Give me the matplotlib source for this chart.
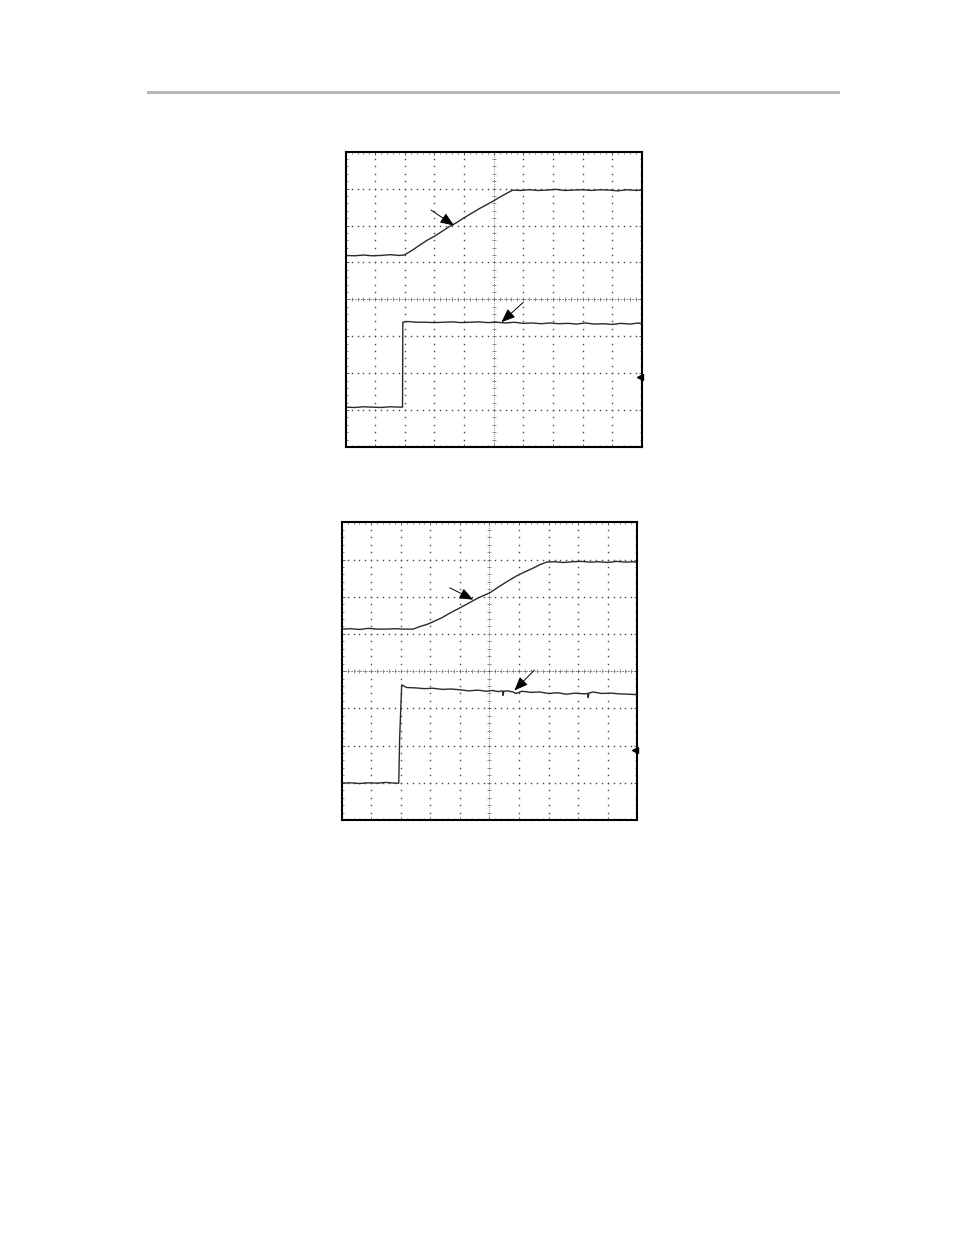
import numpy as np
import matplotlib.pyplot as plt
from matplotlib.lines import Line2D

# Scope screens: 10 x 8 divisions (in divisions)

# Screen 1 - ramp trace (top)
t1_ramp = [0, 0.3, 0.6, 0.9, 1.2, 1.5, 1.8, 1.97, 2.25, 2.5, 2.75, 3.0, 3.25, 3.5, 3.75,
           4.0, 4.25, 4.5, 4.75, 5.0, 5.25, 5.5, 5.65, 5.9, 6.2, 6.5, 6.8, 7.1, 7.4, 7.7,
           8.0, 8.3, 8.6, 8.9, 9.2, 9.5, 9.8, 10.0]
v1_ramp = [5.19, 5.18, 5.20, 5.18, 5.19, 5.21, 5.19, 5.20, 5.33, 5.47, 5.60, 5.71, 5.84,
           5.97, 6.08, 6.21, 6.33, 6.45, 6.56, 6.67, 6.79, 6.90, 6.96, 6.95, 6.97, 6.95,
           6.96, 6.98, 6.95, 6.96, 6.97, 6.95, 6.97, 6.96, 6.94, 6.97, 6.95, 6.96]

# Screen 1 - step trace (bottom)
t1_step = [0, 0.3, 0.6, 0.9, 1.2, 1.5, 1.8, 1.92, 1.93, 2.1, 2.4, 2.7, 3.0, 3.3, 3.6, 3.9,
           4.2, 4.5, 4.8, 5.1, 5.4, 5.7, 6.0, 6.3, 6.6, 6.9, 7.2, 7.5, 7.8, 8.1, 8.4, 8.7,
           9.0, 9.3, 9.6, 9.9, 10.0]
v1_step = [1.08, 1.07, 1.09, 1.08, 1.07, 1.09, 1.08, 1.08, 3.38, 3.40, 3.38, 3.38, 3.37,
           3.38, 3.39, 3.37, 3.38, 3.39, 3.37, 3.38, 3.36, 3.38, 3.35, 3.36, 3.34, 3.36,
           3.34, 3.35, 3.33, 3.36, 3.33, 3.34, 3.32, 3.35, 3.33, 3.36, 3.33]

# Screen 2 - ramp trace (top)
t2_ramp = [0, 0.3, 0.6, 0.9, 1.2, 1.5, 1.8, 2.1, 2.42, 2.65, 2.9, 3.1, 3.4, 3.66, 4.0, 4.3,
           4.6, 5.02, 5.3, 5.6, 5.92, 6.2, 6.48, 6.7, 6.93, 7.2, 7.5, 7.8, 8.1, 8.4, 8.7,
           9.0, 9.3, 9.6, 9.9, 9.97]
v2_ramp = [5.13, 5.14, 5.12, 5.15, 5.13, 5.13, 5.14, 5.13, 5.13, 5.20, 5.26, 5.33, 5.44,
           5.56, 5.70, 5.83, 5.96, 6.11, 6.26, 6.41, 6.56, 6.67, 6.77, 6.86, 6.93, 6.94,
           6.92, 6.94, 6.95, 6.93, 6.94, 6.92, 6.95, 6.93, 6.94, 6.92]

# Screen 2 - step trace (bottom)
t2_step = [0, 0.3, 0.6, 0.9, 1.2, 1.5, 1.8, 1.93, 1.96, 2.03, 2.2, 2.5, 2.8, 3.1, 3.4, 3.7,
           4.0, 4.3, 4.6, 4.9, 5.1, 5.3, 5.44, 5.46, 5.48, 5.6, 5.8, 5.9, 6.1, 6.4, 6.7,
           7.0, 7.3, 7.6, 7.9, 8.2, 8.32, 8.34, 8.36, 8.5, 8.8, 9.1, 9.4, 9.7, 9.97]
v2_step = [0.99, 1.00, 0.98, 1.00, 0.99, 1.01, 0.99, 0.99, 2.20, 3.63, 3.56, 3.55, 3.53,
           3.54, 3.51, 3.52, 3.50, 3.47, 3.49, 3.46, 3.48, 3.45, 3.47, 3.35, 3.46, 3.47,
           3.44, 3.40, 3.46, 3.43, 3.44, 3.40, 3.42, 3.38, 3.41, 3.39, 3.40, 3.29, 3.41,
           3.44, 3.40, 3.41, 3.39, 3.38, 3.37]

# arrows: (tail, tip) in divisions
arrows1 = [((2.88, 6.42), (3.66, 6.00)), ((6.00, 3.92), (5.26, 3.38))]
arrows2 = [((3.66, 6.24), (4.45, 5.92)), ((6.52, 4.03), (5.84, 3.48))]
ground1 = 1.89
ground2 = 1.88

fig = plt.figure(figsize=(9.54, 12.35), dpi=100)

# header rule
fig.add_artist(Line2D([148 / 954, 838 / 954], [1 - 92 / 1235] * 2,
                      color='#b8b8b8', lw=2.2))


def scope(rect, traces, arrows, ground):
    ax = fig.add_axes(rect)
    ax.set_xlim(0, 10)
    ax.set_ylim(0, 8)
    minor = np.arange(0, 10.01, 0.2)
    minor_y = np.arange(0, 8.01, 0.2)

    # dotted graticule
    for gx in range(1, 10):
        if gx == 5:
            continue
        ax.plot([gx] * len(minor_y), minor_y, ls='none', marker='s', ms=1.0,
                color='#444444', mew=0)
    for gy in range(1, 8):
        if gy == 4:
            continue
        ax.plot(minor, [gy] * len(minor), ls='none', marker='s', ms=1.0,
                color='#444444', mew=0)

    # centre cross with small ticks
    ax.plot([5, 5], [0, 8], ls=(0, (1, 1.5)), lw=0.6, color='#666666')
    ax.plot([0, 10], [4, 4], ls=(0, (2, 1.5)), lw=0.6, color='#666666')
    ax.plot([5] * len(minor_y), minor_y, ls='none', marker='_', ms=3, mew=0.5,
            color='#666666')
    ax.plot(minor, [4] * len(minor), ls='none', marker='|', ms=3, mew=0.5,
            color='#666666')

    for t, v in traces:
        ax.plot(t, v, color='#2a2a2a', lw=1.0)

    for tail, tip in arrows:
        ax.annotate('', xy=tip, xytext=tail,
                    arrowprops=dict(arrowstyle='-|>,head_length=0.7,head_width=0.28',
                                    color='black', lw=0.7, mutation_scale=12,
                                    shrinkA=0, shrinkB=0))

    # ground reference marker
    ax.plot([9.93], [ground], marker='<', ms=4, color='black', clip_on=False)

    ax.set_xticks(range(0, 11))
    ax.set_yticks(range(0, 9))
    ax.set_xticks(minor, minor=True)
    ax.set_yticks(minor_y, minor=True)
    ax.tick_params(which='both', direction='in', top=True, right=True,
                   labelbottom=False, labelleft=False, color='#555555')
    ax.tick_params(which='major', length=2.5, width=0.7)
    ax.tick_params(which='minor', length=1.5, width=0.5)
    for s in ax.spines.values():
        s.set_linewidth(1.5)
        s.set_color('black')
    return ax


scope([345.7 / 954, 1 - 447 / 1235, 296 / 954, 295.3 / 1235],
      [(t1_ramp, v1_ramp), (t1_step, v1_step)], arrows1, ground1)
scope([341.7 / 954, 1 - 820 / 1235, 295.6 / 954, 297.7 / 1235],
      [(t2_ramp, v2_ramp), (t2_step, v2_step)], arrows2, ground2)

plt.savefig('out.png', dpi=100)
